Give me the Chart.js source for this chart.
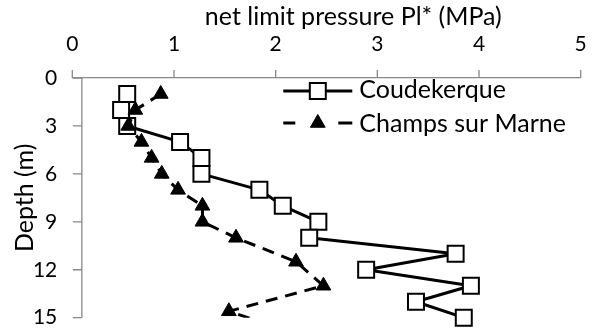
<!DOCTYPE html>
<html><head><meta charset="utf-8">
<script src="https://cdn.jsdelivr.net/npm/chart.js@4.4.1/dist/chart.umd.min.js"></script>
<style>html,body{margin:0;padding:0;background:#fff;}#wrap{width:594px;height:331px;position:relative;}</style>
</head><body><div id="wrap"><canvas id="c" width="594" height="331"></canvas></div>
<script>
const xTickLabels = ['0','1','2','3','4','5'];
const yTickLabels = ['0','3','6','9','12','15'];
const seriesNames = ['Coudekerque','Champs sur Marne'];
const xTitle = 'net limit pressure Pl* (MPa)';
const yTitle = 'Depth (m)';
const coudeDepth = [1,2,3,4,5,6,7,8,9,10,11,12,13,14,15];
const coudePl    = [0.54,0.48,0.54,1.06,1.27,1.27,1.84,2.07,2.42,2.33,3.77,2.89,3.92,3.38,3.85];
const champsDepth = [1,2,3,4,5,6,7,8,9,10,11.5,13,14.6,16];
const champsPl    = [0.87,0.62,0.55,0.68,0.78,0.88,1.04,1.28,1.28,1.61,2.20,2.47,1.54,2.2];
const yAxisCross = 0.094;

const FONT = 'Lato';
const AXIS = '#898989';

const crossAxisPlugin = {
  id: 'crossAxis',
  beforeDatasetsDraw(chart) {
    const {ctx, scales: {x, y}} = chart;
    const px = x.getPixelForValue(yAxisCross);
    ctx.save();
    ctx.strokeStyle = AXIS; ctx.lineWidth = 1.3;
    ctx.beginPath();
    ctx.moveTo(px, y.top); ctx.lineTo(px, y.bottom);
    y.ticks.forEach(t => { const py = y.getPixelForValue(t.value); ctx.moveTo(px, py); ctx.lineTo(px - 9, py); });
    x.ticks.forEach(t => { const qx = x.getPixelForValue(t.value); ctx.moveTo(qx, y.top); ctx.lineTo(qx, y.top - 8); });
    ctx.stroke();
    ctx.restore();
  }
};

const titlePlugin = {
  id: 'xTitle',
  afterDraw(chart) {
    const {ctx, chartArea: a} = chart;
    ctx.save();
    ctx.fillStyle = '#000';
    ctx.font = '25px ' + FONT; ctx.textAlign = 'center'; ctx.textBaseline = 'middle';
    ctx.fillText(xTitle, a.left + 281, a.top - 61);
    ctx.restore();
  }
};

const legendPlugin = {
  id: 'customLegend',
  afterDatasetsDraw(chart) {
    const {ctx, chartArea: a} = chart;
    const x0 = a.left + 211, x1 = a.left + 280, xm = (x0 + x1) / 2;
    const rows = [a.top + 13, a.top + 45];
    ctx.save();
    ctx.strokeStyle = '#000'; ctx.lineWidth = 3; ctx.setLineDash([]);
    ctx.beginPath(); ctx.moveTo(x0, rows[0]); ctx.lineTo(x1, rows[0]); ctx.stroke();
    ctx.fillStyle = '#fff'; ctx.strokeStyle = '#000'; ctx.lineWidth = 2;
    Chart.helpers.drawPoint(ctx, {pointStyle: 'rect', radius: 11.3, borderWidth: 2}, xm, rows[0]);
    ctx.strokeStyle = '#000'; ctx.lineWidth = 3;
    ctx.beginPath();
    ctx.moveTo(x0, rows[1]); ctx.lineTo(x0 + 12, rows[1]);
    ctx.moveTo(x1 - 14, rows[1]); ctx.lineTo(x1, rows[1]);
    ctx.stroke();
    ctx.fillStyle = '#000'; ctx.lineWidth = 1;
    Chart.helpers.drawPoint(ctx, {pointStyle: 'triangle', radius: 8.5, borderWidth: 1}, xm, rows[1]);
    ctx.fillStyle = '#000';
    ctx.font = '25px ' + FONT; ctx.textBaseline = 'middle'; ctx.textAlign = 'left';
    ctx.fillText(seriesNames[0], x1 + 7, rows[0] - 1);
    ctx.fillText(seriesNames[1], x1 + 7, rows[1] + 1);
    ctx.restore();
  }
};

new Chart(document.getElementById('c'), {
  type: 'scatter',
  data: {
    datasets: [
      {
        label: seriesNames[0],
        data: coudeDepth.map((d, i) => ({x: coudePl[i], y: d})),
        showLine: true, borderColor: '#000', borderWidth: 3, borderJoinStyle: 'round',
        pointStyle: 'rect', pointRadius: 11.3, pointHoverRadius: 11.3,
        pointBackgroundColor: '#fff', pointBorderColor: '#000', pointBorderWidth: 2,
        clip: false, order: 2
      },
      {
        label: seriesNames[1],
        data: champsDepth.map((d, i) => ({x: champsPl[i], y: d})),
        showLine: true, borderColor: '#000', borderWidth: 3, borderDash: [12, 8],
        pointStyle: 'triangle', pointRadius: 8.5, pointHoverRadius: 8.5,
        pointBackgroundColor: '#000', pointBorderColor: '#000', pointBorderWidth: 1,
        clip: {left: 30, right: 30, top: 30, bottom: 0}, order: 1
      }
    ]
  },
  options: {
    responsive: false, animation: false, devicePixelRatio: 1,
    layout: {padding: {left: 0, right: 8.6, top: 0, bottom: 0}},
    plugins: {legend: {display: false}, tooltip: {enabled: false}},
    scales: {
      x: {
        type: 'linear', position: 'top', min: 0, max: 5,
        ticks: {stepSize: 1, autoSkip: false, maxRotation: 0, padding: 0, color: '#000',
                font: {family: FONT, size: 21}, callback: (v, i) => xTickLabels[i]},
        grid: {display: true, drawOnChartArea: false, drawTicks: true, tickLength: 21, color: 'rgba(0,0,0,0)'},
        border: {display: true, color: AXIS, width: 1.3},
        title: {display: false},
        afterFit: s => { s.height = 78; }
      },
      y: {
        type: 'linear', position: 'left', reverse: true, min: 0, max: 15,
        ticks: {stepSize: 3, autoSkip: false, padding: 0, color: '#000',
                font: {family: FONT, size: 21}, callback: v => yTickLabels.find(l => Number(l) === v)},
        grid: {display: true, drawOnChartArea: false, drawTicks: true, tickLength: 15, color: 'rgba(0,0,0,0)'},
        border: {display: false},
        title: {display: true, text: yTitle, color: '#000', font: {family: FONT, size: 25}, padding: {top: 10, bottom: 0}},
        afterFit: s => { s.width = 72.3; }
      }
    }
  },
  plugins: [crossAxisPlugin, legendPlugin, titlePlugin]
});
</script></body></html>
